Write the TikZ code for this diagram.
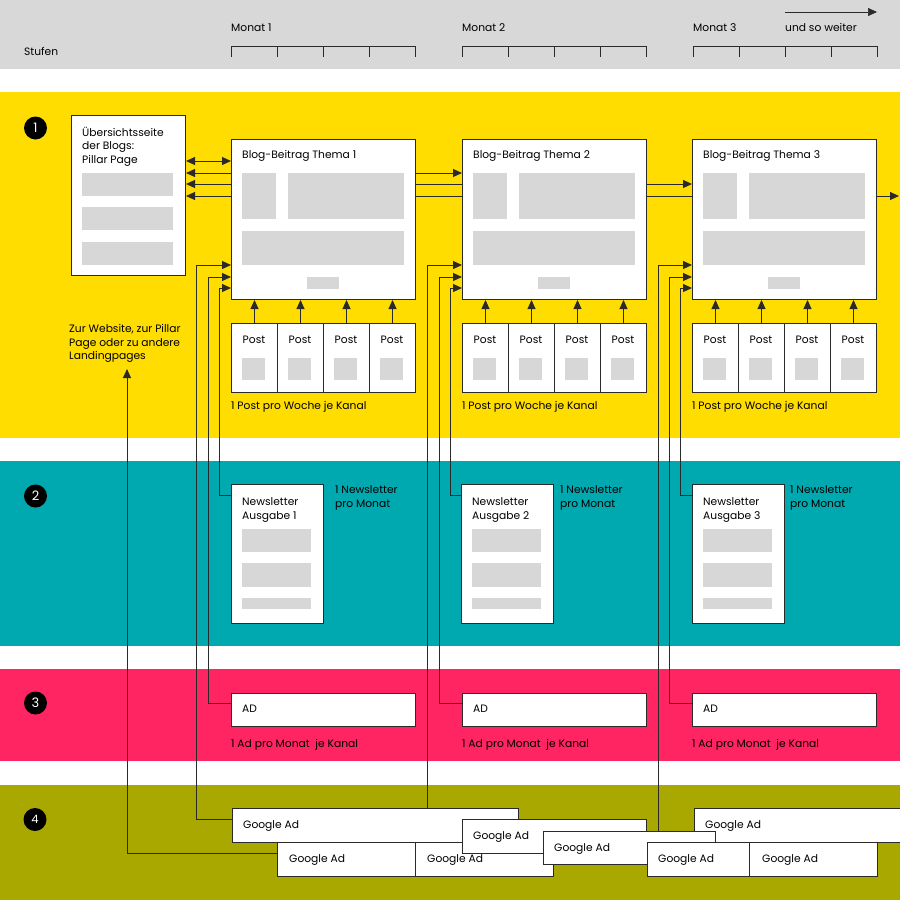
\documentclass[tikz,border=0pt]{standalone}
\usepackage{fontspec}
\setmainfont{Poppins}
\usetikzlibrary{arrows.meta,calc}
\definecolor{hdrgray}{HTML}{D8D8D8}
\definecolor{yelband}{HTML}{FFDD00}
\definecolor{tealband}{HTML}{00A8AF}
\definecolor{pinkband}{HTML}{FF2462}
\definecolor{oliveband}{HTML}{A9A800}
\definecolor{phgray}{HTML}{D7D7D7}
\definecolor{lncol}{HTML}{2A2A2A}
\tikzset{
  wbox/.style={draw=lncol, line width=1pt, fill=white, inner sep=0pt, anchor=north west},
  phbox/.style={fill=phgray, draw=none, inner sep=0pt, anchor=north west},
  lbl/.style={font=\fontsize{10.7}{13}\selectfont, anchor=base west, inner sep=0pt, text=black},
  conn/.style={draw=lncol, line width=0.9pt},
  tip/.style={-{Triangle[length=9pt,width=8pt]}},
  tips/.style={{Triangle[length=9pt,width=8pt]}-{Triangle[length=9pt,width=8pt]}},
  numc/.style={circle, fill=black, text=white, inner sep=0pt, minimum size=23pt, font=\fontsize{13}{13}\selectfont},
}
\begin{document}
\begin{tikzpicture}[x=1pt,y=-1pt]
\useasboundingbox (0,0) rectangle (900,900);
% bands
\fill[white] (0,0) rectangle (900,900);
\fill[hdrgray] (0,0) rectangle (900,69);
\fill[yelband] (0,92) rectangle (900,438);
\fill[tealband] (0,461) rectangle (900,646);
\fill[pinkband] (0,669) rectangle (900,761);
\fill[oliveband] (0,785) rectangle (900,900);
% header
\node[lbl] (stufen) at (24,55) {Stufen};
\foreach \m/\x in {1/231,2/462,3/693}{
  \node[lbl] (monat\m) at (\x,31.5) {Monat \m};
  \draw[lncol, line width=1pt] (\x,57) -- (\x,46) -- (\x+184,46) -- (\x+184,57);
  \foreach \k in {1,2,3} \draw[lncol,line width=1pt] (\x+46*\k,46) -- (\x+46*\k,57);
}
\node[lbl] (weiter) at (785,31.5) {und so weiter};
\coordinate (wa) at (785,12);
\coordinate (wb) at (877,12);
\draw[lncol, line width=0.6pt, tip] (wa) -- (wb);
% stage numbers
\node[numc] (n1) at (35.5,128) {1};
\node[numc] (n2) at (35.5,496) {2};
\node[numc] (n3) at (35.5,703) {3};
\node[numc, font=\fontsize{11.5}{11.5}\selectfont] (n4) at (35,819.5) {4};
% pillar page
\node[wbox, minimum width=114pt, minimum height=160pt] (pillar) at (71,115) {};
\node[lbl] (p1) at (82,136) {Übersichtsseite};
\node[lbl] (p2) at (82,149.5) {der Blogs:};
\node[lbl] (p3) at (82,163) {Pillar Page};
\foreach \y/\i in {173/1,207/2,242/3}
  \node[phbox, minimum width=91pt, minimum height=23pt] (pb\i) at (82,\y) {};
% label left
\node[lbl] (z1) at (69,332) {Zur Website, zur Pillar};
\node[lbl] (z2) at (69,346) {Page oder zu andere};
\node[lbl] (z3) at (69,359.5) {Landingpages};
\coordinate (zt) at (127,369);
% months
\foreach \i/\x/\nx/\tx in {1/231/231/335,2/462/461/560,3/692/692/790}{
  \node[wbox, minimum width=184pt, minimum height=160pt] (b\i) at (\x,139) {};
  \node[lbl] (bt\i) at (\x+11,158.5) {Blog-Beitrag Thema \i};
  \node[phbox, minimum width=34pt, minimum height=46pt] (bs\i) at (\x+11,173) {};
  \node[phbox, minimum width=116pt, minimum height=46pt] (br\i) at (\x+57,173) {};
  \node[phbox, minimum width=162pt, minimum height=34pt] (bw\i) at (\x+11,231) {};
  \node[phbox, minimum width=32pt, minimum height=12pt] (bb\i) at (\x+76,277) {};
  \foreach \k in {1,2,3,4}{
    \node[wbox, minimum width=46pt, minimum height=69pt] (post\i\k) at (\x+46*\k-46,323) {};
    \node[lbl, anchor=base] (postt\i\k) at (\x+46*\k-23,343) {Post};
    \node[phbox, minimum width=23pt, minimum height=22pt] (postp\i\k) at (\x+46*\k-35,358) {};
    \draw[conn,tip] (post\i\k.north) -- (post\i\k.north |- b\i.south);
  }
  \node[lbl] (pw\i) at (\x,409) {1 Post pro Woche je Kanal};
  % newsletter
  \node[wbox, minimum width=92pt, minimum height=139pt] (nl\i) at (\nx,484) {};
  \node[lbl] (nta\i) at (\nx+11,505) {Newsletter};
  \node[lbl] (ntb\i) at (\nx+11,519) {Ausgabe \i};
  \node[phbox, minimum width=69pt, minimum height=23pt] (npa\i) at (\nx+11,529) {};
  \node[phbox, minimum width=69pt, minimum height=24pt] (npb\i) at (\nx+11,563) {};
  \node[phbox, minimum width=69pt, minimum height=11pt] (npc\i) at (\nx+11,598) {};
  \node[lbl] (nla\i) at (\tx,493) {1 Newsletter};
  \node[lbl] (nlb\i) at (\tx,507) {pro Monat};
  % ad
  \node[wbox, minimum width=184pt, minimum height=33pt] (ad\i) at (\x,693) {};
  \node[lbl] (adt\i) at (\x+11,712) {AD};
  \node[lbl] (adl\i) at (\x,747) {1 Ad pro Monat\ \ je Kanal};
  % connectors to blog
  \draw[conn,tip] (nl\i.west |- 0,495) -| (\x-12,288) -- (b\i.west |- 0,288);
  \draw[conn,tip] (ad\i.west |- 0,703) -| (\x-23,277) -- (b\i.west |- 0,277);
}
% google ads
\node[wbox, minimum width=216pt, minimum height=34pt] (gTR) at (694,808) {};
\node[lbl] (gTRt) at (705,828) {Google Ad};
\node[wbox, minimum width=286pt, minimum height=34pt] (gA1) at (232,808) {};
\node[lbl] (gA1t) at (243,828) {Google Ad};
\node[wbox, minimum width=138pt, minimum height=34pt] (gA2) at (277,842) {};
\node[lbl] (gA2t) at (289,862.5) {Google Ad};
\node[wbox, minimum width=138pt, minimum height=34pt] (gA3) at (415,842) {};
\node[lbl] (gA3t) at (427,862.5) {Google Ad};
\node[wbox, minimum width=184pt, minimum height=34pt] (gB1) at (462,819) {};
\node[lbl] (gB1t) at (473,839.5) {Google Ad};
\node[wbox, minimum width=172pt, minimum height=33pt] (gB2) at (543,831) {};
\node[lbl] (gB2t) at (554,851) {Google Ad};
\node[wbox, minimum width=102pt, minimum height=34pt] (gC1) at (647,842) {};
\node[lbl] (gC1t) at (658,862.5) {Google Ad};
\node[wbox, minimum width=128pt, minimum height=34pt] (gC2) at (749,842) {};
\node[lbl] (gC2t) at (762,862.5) {Google Ad};
% google connectors
\draw[conn,tip] (gA1.west |- 0,819) -| (196,265) -- (b1.west |- 0,265);
\draw[conn,tip] (gA1.north -| 427,0) |- (b2.west |- 0,265);
\draw[conn,tip] (gB2.north -| 658,0) |- (b3.west |- 0,265);
\draw[conn,tip] (gA2.west |- 0,853) -| (zt);
% pillar / blog links
\draw[conn,tips] (pillar.east |- 0,161) -- (b1.west |- 0,161);
\foreach \y in {173,184,196} \draw[conn,tip] (b1.west |- 0,\y) -- (pillar.east |- 0,\y);
\draw[conn,tip] (b1.east |- 0,173) -- (b2.west |- 0,173);
\draw[conn] (b1.east |- 0,184) -- (b2.west |- 0,184);
\draw[conn] (b1.east |- 0,196) -- (b2.west |- 0,196);
\draw[conn,tip] (b2.east |- 0,184) -- (b3.west |- 0,184);
\draw[conn] (b2.east |- 0,196) -- (b3.west |- 0,196);
\coordinate (outr) at (899,196);
\draw[conn,tip] (b3.east |- 0,196) -- (outr);
\end{tikzpicture}
\end{document}
